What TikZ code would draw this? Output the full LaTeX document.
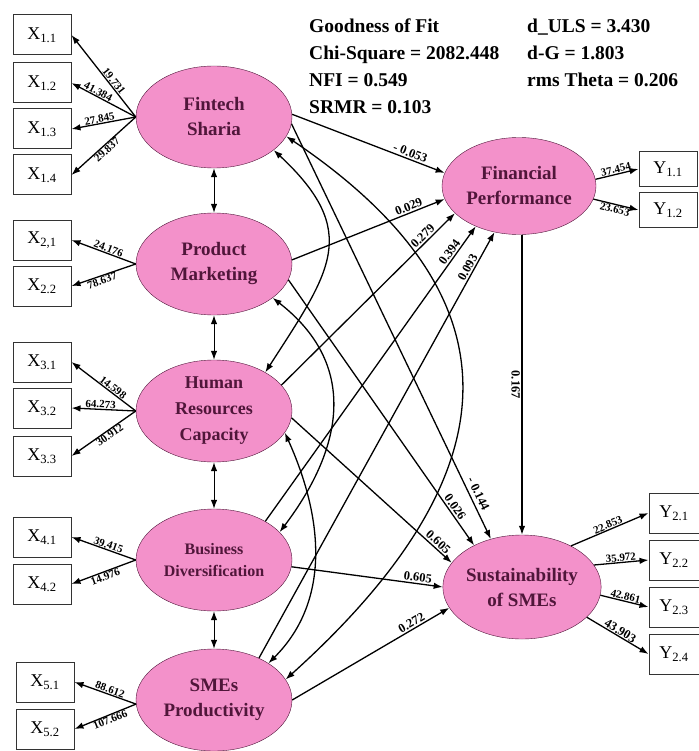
\documentclass[tikz,border=0pt]{standalone}
\usepackage{fontspec}
\setmainfont{Liberation Serif}
\usetikzlibrary{shapes,positioning,arrows.meta}
\definecolor{latentpink}{RGB}{243,145,202}
\definecolor{latenttext}{RGB}{80,22,58}

\begin{document}
\begin{tikzpicture}
  [x=1pt, y=-1pt,
   latent/.style={
     ellipse,
     draw=latenttext,
     fill=latentpink,
     minimum width=156pt,
     minimum height=102pt,
     inner sep=0pt,
     align=center,
     text=latenttext,
     font=\fontsize{19}{25}\selectfont\bfseries
     },
   indicator/.style={
     rectangle,
     draw=black!80,
     line width=1pt,
     minimum width=58pt,
     minimum height=40pt,
     font=\fontsize{18}{20}\selectfont
     },
   loading/.style={font=\fontsize{11}{12}\selectfont\bfseries, sloped, inner sep=0.5pt, midway},
   coef/.style={font=\fontsize{12.5}{14}\selectfont\bfseries, sloped, inner sep=1.5pt},
   link/.style={-{Latex[length=9pt,width=6.5pt]}, line width=1.3pt},
   corr/.style={{Latex[length=9pt,width=6.5pt]}-{Latex[length=9pt,width=6.5pt]}, line width=1.3pt},
   fitstats/.style={align=left, anchor=north west, inner sep=0pt, font=\fontsize{19.5}{27}\selectfont\bfseries}
  ]
  \useasboundingbox (0,0) rectangle (698,751);

  % variabili latenti
  \node[latent] (fs) at (214,117) {Fintech\\Sharia};
  \node[latent] (pm) at (214,264) {Product\\Marketing};
  \node[latent, font=\fontsize{18}{26}\selectfont\bfseries] (hrc) at (214,411) {Human\\Resources\\Capacity};
  \node[latent, font=\fontsize{16}{22}\selectfont\bfseries] (bd) at (214,560) {Business\\Diversification};
  \node[latent] (sp) at (214,700) {SMEs\\Productivity};
  \node[latent, minimum width=154pt, minimum height=97pt] (fp) at (519,186) {Financial\\Performance};
  \node[latent, minimum height=104pt] (sos) at (522,587) {Sustainability\\of SMEs};

  % indicatori X
  \node[indicator] (x11) at (42,35) {X\textsubscript{1.1}};
  \node[indicator, below=7pt of x11] (x12) {X\textsubscript{1.2}};
  \node[indicator, below=5pt of x12] (x13) {X\textsubscript{1.3}};
  \node[indicator, below=5pt of x13] (x14) {X\textsubscript{1.4}};

  \node[indicator] (x21) at (42,240) {X\textsubscript{2,1}};
  \node[indicator, below=5pt of x21] (x22) {X\textsubscript{2.2}};

  \node[indicator] (x31) at (42,362) {X\textsubscript{3.1}};
  \node[indicator, below=5pt of x31] (x32) {X\textsubscript{3.2}};
  \node[indicator, below=7pt of x32] (x33) {X\textsubscript{3.3}};

  \node[indicator] (x41) at (42,537) {X\textsubscript{4.1}};
  \node[indicator, below=6pt of x41] (x42) {X\textsubscript{4.2}};

  \node[indicator] (x51) at (45,682) {X\textsubscript{5.1}};
  \node[indicator, below=6pt of x51] (x52) {X\textsubscript{5.2}};

  % indicatori Y
  \node[indicator, minimum height=35pt] (y11) at (668,169) {Y\textsubscript{1.1}};
  \node[indicator, minimum height=35pt, below=5pt of y11] (y12) {Y\textsubscript{1.2}};

  \node[indicator, minimum width=50pt] (y21) at (674,513) {Y\textsubscript{2.1}};
  \node[indicator, minimum width=50pt, below=6pt of y21] (y22) {Y\textsubscript{2.2}};
  \node[indicator, minimum width=50pt, below=6pt of y22] (y23) {Y\textsubscript{2.3}};
  \node[indicator, minimum width=50pt, below=6pt of y23] (y24) {Y\textsubscript{2.4}};

  % goodness of fit
  \node[fitstats] (gof) at (309,19) {Goodness of Fit\\Chi-Square = 2082.448\\NFI = 0.549\\SRMR = 0.103};
  \node[fitstats] (gofbis) at (527,19) {d\_ULS = 3.430\\d-G = 1.803\\rms Theta = 0.206};

  % loadings
  \draw[link] (fs.west) -- node[loading, pos=0.4, above] {19.731} (x11.east);
  \draw[link] (fs.west) -- node[loading, pos=0.62, above] {41.384} (x12.east);
  \draw[link] (fs.west) -- node[loading, pos=0.55, above] {27.845} (x13.east);
  \draw[link] (fs.west) -- node[loading, pos=0.5, below] {29.837} (x14.east);
  \draw[link] (pm.west) -- node[loading, pos=0.45, above] {24.176} (x21.east);
  \draw[link] (pm.west) -- node[loading, pos=0.55, below] {78.637} (x22.east);
  \draw[link] (hrc.west) -- node[loading, pos=0.4, above] {14.598} (x31.east);
  \draw[link] (hrc.west) -- node[loading, pos=0.55, above] {64.273} (x32.east);
  \draw[link] (hrc.west) -- node[loading, pos=0.45, below] {30.912} (x33.east);
  \draw[link] (bd.west) -- node[loading, pos=0.45, above] {39.415} (x41.east);
  \draw[link] (bd.west) -- node[loading, pos=0.5, below] {14.976} (x42.east);
  \draw[link] (sp.183) -- node[loading, pos=0.45, above] {88.612} (x51.east);
  \draw[link] (sp.183) -- node[loading, pos=0.45, below] {107.666} (x52.east);

  \draw[link] (fp.5) -- node[loading, above] {37.454} (y11.west);
  \draw[link] (fp.-10) -- node[loading, below] {23.653} (y12.west);
  \draw[link] (sos.40) -- node[loading, above] {22.853} (y21.west);
  \draw[link] (sos.17) -- node[loading, above] {35.972} (y22.west);
  \draw[link] (sos.-6) -- node[loading, above] {42.861} (y23.west);
  \draw[link] (sos.-25) -- node[loading, above, font=\fontsize{12.5}{13}\selectfont\bfseries] {43.903} (y24.west);

  % correlazioni tra adiacenti
  \draw[corr, line width=1pt] (fs.south) -- (pm.north);
  \draw[corr, line width=1pt] (pm.south) -- (hrc.north);
  \draw[corr, line width=1pt] (hrc.south) -- (bd.north);
  \draw[corr, line width=1pt] (bd.south) -- (sp.north);

  % correlazioni curve
  \draw[corr] (fs.-15) .. controls +(246,166) and +(221,-199) .. (sp.16);
  \draw[corr] (fs.-29) .. controls +(88,82) and +(65,-101) .. (hrc.37);
  \draw[corr] (pm.-30) .. controls +(85,66) and +(65,-86) .. (bd.23);
  \draw[corr] (hrc.-17) .. controls +(37,82) and +(64,-64) .. (sp.34);

  % path verso FP
  \draw[link] (fs.2) -- node[coef, pos=0.76, above] {- 0.053} (fp.170);
  \draw[link] (pm.3) -- node[coef, pos=0.78, above] {0.029} (fp.190);
  \draw[link] (hrc.21) -- node[coef, pos=0.84, above] {0.279} (fp.203);
  \draw[link] (bd.37) -- node[coef, pos=0.9, above] {0.394} (fp.223);
  \draw[link] (sp.43) -- node[coef, pos=0.91, above] {0.093} (fp.242);

  % path verso SoS
  \draw[link] (fs.-5) -- node[coef, pos=0.9, above=2pt] {- 0.144} (sos.123);
  \draw[link] (pm.-12) -- node[coef, pos=0.87, above] {0.026} (sos.139);
  \draw[link] (hrc.-5) -- node[coef, pos=0.89, above] {0.605} (sos.161);
  \draw[link] (bd.-5) -- node[coef, pos=0.83, above] {0.605} (sos.180);
  \draw[link] (sp.0) -- node[coef, pos=0.78, above] {0.272} (sos.196);

  \draw[link] (fp.south -| sos.north) -- node[coef, below] {0.167} (sos.north);
\end{tikzpicture}
\end{document}
